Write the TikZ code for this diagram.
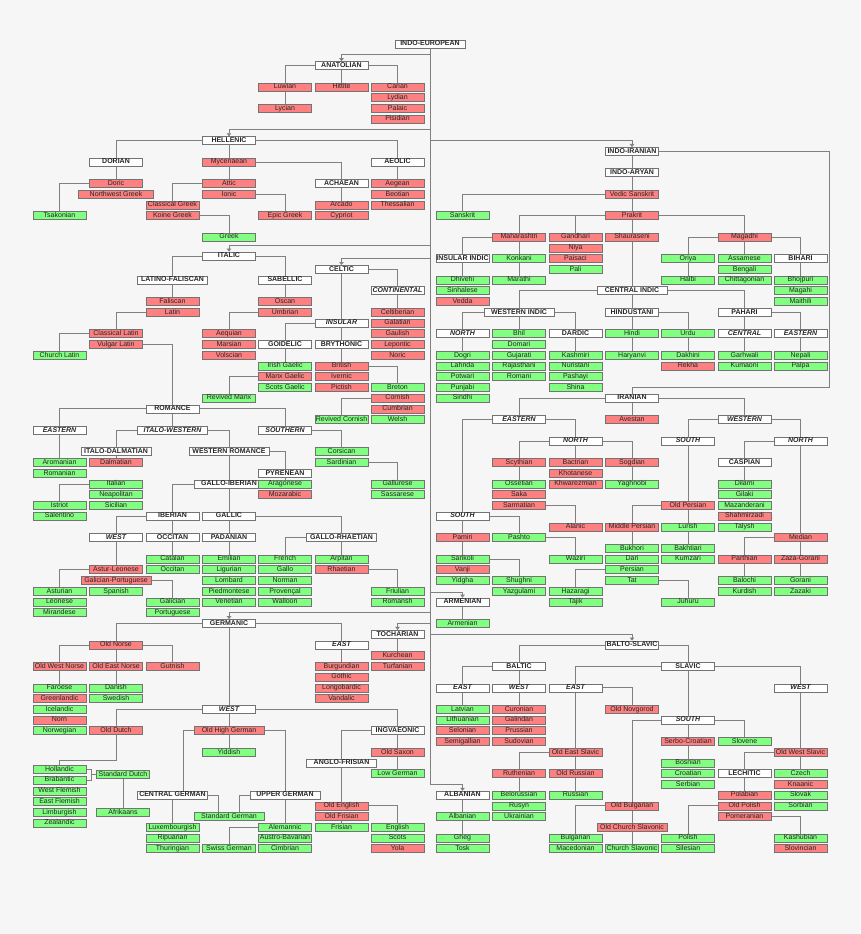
\documentclass[tikz,border=0pt]{standalone}
\usepackage{fontspec}
\setmainfont{Liberation Sans}
\usepackage{tikz}
\usetikzlibrary{arrows.meta,backgrounds,positioning}
\definecolor{bgcol}{RGB}{246,246,246}
\definecolor{extcol}{RGB}{255,128,128}
\definecolor{livcol}{RGB}{128,255,128}
\tikzset{
  lang/.style={draw=black!55, line width=.6pt, minimum width=53pt, minimum height=8pt, inner sep=0pt,
    font=\fontsize{7}{8}\selectfont, text height=5pt, text depth=1.3pt, text=black!85},
  grp/.style={lang, fill=white, font=\fontsize{7}{8}\selectfont\bfseries},
  grpi/.style={lang, fill=white, font=\fontsize{7}{8}\selectfont\bfseries\itshape},
  ext/.style={lang, fill=extcol},
  liv/.style={lang, fill=livcol},
  wide/.style={minimum width=70pt},
  link/.style={draw=black!50, line width=.7pt},
  arr/.style={link, -{Triangle[length=3pt,width=4.5pt]}}
}
\begin{document}
\begin{tikzpicture}[x=1pt, y=-10.73pt]
\useasboundingbox (0,-4.1) rectangle (860,82.945);
% root and trunk
\node[grp, wide] (indo_european) at (430,0) {INDO-EUROPEAN};
\coordinate (t_ana) at (430,0.93);
\coordinate (t_hel) at (430,8);
\coordinate (t_iir) at (430,9);
\coordinate (t_ita) at (430,18.75);
\coordinate (t_cel) at (430,20);
\coordinate (t_arm) at (430,51.15);
\coordinate (t_ger) at (430,53);
\coordinate (t_toc) at (430,54);
\coordinate (t_bal) at (430,55);
\coordinate (t_alb) at (430,69);

% anatolian
\node[grp] (anatolian) at (341.5,2) {ANATOLIAN};
\node[ext] (luwian) at (285,4) {Luwian};
\node[ext] (hittite) at (341.5,4) {Hittite};
\node[ext] (carian) at (397.5,4) {Carian};
\node[ext] (lydian) at (397.5,5) {Lydian};
\node[ext] (lycian) at (285,6) {Lycian};
\node[ext] (palaic) at (397.5,6) {Palaic};
\node[ext] (pisidian) at (397.5,7) {Pisidian};

% hellenic
\node[grp] (hellenic) at (229,9) {HELLENIC};
\node[grp] (dorian) at (116,11) {DORIAN};
\node[ext] (mycenaean) at (229,11) {Mycenaean};
\node[grp] (aeolic) at (397.5,11) {AEOLIC};
\node[ext] (doric) at (116,13) {Doric};
\node[ext] (attic) at (229,13) {Attic};
\node[grp] (achaean) at (341.5,13) {ACHAEAN};
\node[ext] (aegean) at (397.5,13) {Aegean};
\node[ext, minimum width=75pt] (nw_greek) at (116,14) {Northwest Greek};
\node[ext] (ionic) at (229,14) {Ionic};
\node[ext] (beotian) at (397.5,14) {Beotian};
\node[ext] (cl_greek) at (172.5,15) {Classical Greek};
\node[ext] (arcado) at (341.5,15) {Arcado};
\node[ext] (thessalian) at (397.5,15) {Thessalian};
\node[liv] (tsakonian) at (59.5,16) {Tsakonian};
\node[ext] (koine) at (172.5,16) {Koine Greek};
\node[ext] (epic) at (285,16) {Epic Greek};
\node[ext] (cypriot) at (341.5,16) {Cypriot};
\node[liv] (greek) at (229,18) {Greek};

% indo-aryan
\node[grp] (indo_iranian) at (632,10) {INDO-IRANIAN};
\coordinate (ir_bend) at (829,32);
\node[grp] (indo_aryan) at (632,12) {INDO-ARYAN};
\node[ext] (vedic) at (632,14) {Vedic Sanskrit};
\node[liv] (sanskrit) at (462.5,16) {Sanskrit};
\node[ext] (prakrit) at (632,16) {Prakrit};
\node[ext] (maharashtri) at (519,18) {Maharashtri};
\node[ext] (gandhari) at (575.5,18) {Gandhari};
\node[ext] (shauraseni) at (632,18) {Shauraseni};
\node[ext] (magadhi) at (744.5,18) {Magadhi};
\node[ext] (niya) at (575.5,19) {Niya};
\node[grp] (insular_indic) at (462.5,20) {INSULAR INDIC};
\node[liv] (konkani) at (519,20) {Konkani};
\node[ext] (paisaci) at (575.5,20) {Paisaci};
\node[liv] (oriya) at (688,20) {Oriya};
\node[liv] (assamese) at (744.5,20) {Assamese};
\node[grp] (bihari) at (800.5,20) {BIHARI};
\node[liv] (pali) at (575.5,21) {Pali};
\node[liv] (bengali) at (744.5,21) {Bengali};
\node[liv] (dhivehi) at (462.5,22) {Dhivehi};
\node[liv] (marathi) at (519,22) {Marathi};
\node[liv] (halbi) at (688,22) {Halbi};
\node[liv] (chittagonian) at (744.5,22) {Chittagonian};
\node[liv] (bhojpuri) at (800.5,22) {Bhojpuri};
\node[liv] (sinhalese) at (462.5,23) {Sinhalese};
\node[grp, wide] (central_indic) at (632,23) {CENTRAL INDIC};
\node[liv] (magahi) at (800.5,23) {Magahi};
\node[ext] (vedda) at (462.5,24) {Vedda};
\node[liv] (maithili) at (800.5,24) {Maithili};
\node[grp, wide] (western_indic) at (519,25) {WESTERN INDIC};
\node[grp] (hindustani) at (632,25) {HINDUSTANI};
\node[grp] (pahari) at (744.5,25) {PAHARI};
\node[grpi] (north_i) at (462.5,27) {NORTH};
\node[liv] (bhil) at (519,27) {Bhil};
\node[grp] (dardic) at (575.5,27) {DARDIC};
\node[liv] (hindi) at (632,27) {Hindi};
\node[liv] (urdu) at (688,27) {Urdu};
\node[grpi] (central_p) at (744.5,27) {CENTRAL};
\node[grpi] (eastern_p) at (800.5,27) {EASTERN};
\node[liv] (domari) at (519,28) {Domari};
\node[liv] (dogri) at (462.5,29) {Dogri};
\node[liv] (gujarati) at (519,29) {Gujarati};
\node[liv] (kashmiri) at (575.5,29) {Kashmiri};
\node[liv] (haryanvi) at (632,29) {Haryanvi};
\node[liv] (dakhini) at (688,29) {Dakhini};
\node[liv] (garhwali) at (744.5,29) {Garhwali};
\node[liv] (nepali) at (800.5,29) {Nepali};
\node[liv] (lahnda) at (462.5,30) {Lahnda};
\node[liv] (rajasthani) at (519,30) {Rajasthani};
\node[liv] (nuristani) at (575.5,30) {Nuristani};
\node[ext] (rekha) at (688,30) {Rekha};
\node[liv] (kumaoni) at (744.5,30) {Kumaoni};
\node[liv] (palpa) at (800.5,30) {Palpa};
\node[liv] (potwari) at (462.5,31) {Potwari};
\node[liv] (romani) at (519,31) {Romani};
\node[liv] (pashayi) at (575.5,31) {Pashayi};
\node[liv] (punjabi) at (462.5,32) {Punjabi};
\node[liv] (shina) at (575.5,32) {Shina};
\node[liv] (sindhi) at (462.5,33) {Sindhi};

% iranian
\node[grp] (iranian) at (632,33) {IRANIAN};
\node[grpi] (eastern_ir) at (519,35) {EASTERN};
\node[ext] (avestan) at (632,35) {Avestan};
\node[grpi] (western_ir) at (744.5,35) {WESTERN};
\node[grpi] (north_e) at (575.5,37) {NORTH};
\node[grpi] (south_w) at (688,37) {SOUTH};
\node[grpi] (north_w) at (800.5,37) {NORTH};
\node[ext] (scythian) at (519,39) {Scythian};
\node[ext] (bactrian) at (575.5,39) {Bactrian};
\node[ext] (sogdian) at (632,39) {Sogdian};
\node[grp] (caspian) at (744.5,39) {CASPIAN};
\node[ext] (khotanese) at (575.5,40) {Khotanese};
\node[liv] (ossetian) at (519,41) {Ossetian};
\node[ext] (khwarezmian) at (575.5,41) {Khwarezmian};
\node[liv] (yaghnobi) at (632,41) {Yaghnobi};
\node[liv] (dilami) at (744.5,41) {Dilami};
\node[ext] (saka) at (519,42) {Saka};
\node[liv] (gilaki) at (744.5,42) {Gilaki};
\node[ext] (sarmatian) at (519,43) {Sarmatian};
\node[ext] (old_persian) at (688,43) {Old Persian};
\node[liv] (mazanderani) at (744.5,43) {Mazanderani};
\node[grpi] (south_e) at (462.5,44) {SOUTH};
\node[ext] (shahmirzadi) at (744.5,44) {Shahmirzadi};
\node[ext] (alanic) at (575.5,45) {Alanic};
\node[ext] (mid_persian) at (632,45) {Middle Persian};
\node[liv] (lurish) at (688,45) {Lurish};
\node[liv] (talysh) at (744.5,45) {Talysh};
\node[ext] (pamiri) at (462.5,46) {Pamiri};
\node[liv] (pashto) at (519,46) {Pashto};
\node[ext] (median) at (800.5,46) {Median};
\node[liv] (bukhori) at (632,47) {Bukhori};
\node[liv] (bakhtiari) at (688,47) {Bakhtiari};
\node[liv] (sarikoli) at (462.5,48) {Sarikoli};
\node[liv] (waziri) at (575.5,48) {Waziri};
\node[liv] (dari) at (632,48) {Dari};
\node[liv] (kumzari) at (688,48) {Kumzari};
\node[ext] (parthian) at (744.5,48) {Parthian};
\node[ext] (zaza_gorani) at (800.5,48) {Zaza-Gorani};
\node[ext] (vanji) at (462.5,49) {Vanji};
\node[liv] (persian) at (632,49) {Persian};
\node[liv] (yidgha) at (462.5,50) {Yidgha};
\node[liv] (shughni) at (519,50) {Shughni};
\node[liv] (tat) at (632,50) {Tat};
\node[liv] (balochi) at (744.5,50) {Balochi};
\node[liv] (gorani) at (800.5,50) {Gorani};
\node[liv] (yazgulami) at (519,51) {Yazgulami};
\node[liv] (hazaragi) at (575.5,51) {Hazaragi};
\node[liv] (kurdish) at (744.5,51) {Kurdish};
\node[liv] (zazaki) at (800.5,51) {Zazaki};
\node[liv] (tajik) at (575.5,52) {Tajik};
\node[liv] (juhuru) at (688,52) {Juhuru};

% armenian
\node[grp] (armenian_g) at (462.5,52) {ARMENIAN};
\node[liv] (armenian) at (462.5,54) {Armenian};

% italic
\node[grp] (italic) at (229,19.75) {ITALIC};
\node[grp, wide] (lat_fal) at (172.5,22) {LATINO-FALISCAN};
\node[grp] (sabellic) at (285,22) {SABELLIC};
\node[ext] (faliscan) at (172.5,24) {Faliscan};
\node[ext] (oscan) at (285,24) {Oscan};
\node[ext] (latin) at (172.5,25) {Latin};
\node[ext] (umbrian) at (285,25) {Umbrian};
\node[ext] (cl_latin) at (116,27) {Classical Latin};
\node[ext] (aequian) at (229,27) {Aequian};
\node[ext] (vulgar_latin) at (116,28) {Vulgar Latin};
\node[ext] (marsian) at (229,28) {Marsian};
\node[liv] (church_latin) at (59.5,29) {Church Latin};
\node[ext] (volscian) at (229,29) {Volscian};

% celtic
\node[grp] (celtic) at (341.5,21) {CELTIC};
\node[grpi] (continental) at (397.5,23) {CONTINENTAL};
\node[ext] (celtiberian) at (397.5,25) {Celtiberian};
\node[grpi] (insular_c) at (341.5,26) {INSULAR};
\node[ext] (galatian) at (397.5,26) {Galatian};
\node[ext] (gaulish) at (397.5,27) {Gaulish};
\node[grp] (goidelic) at (285,28) {GOIDELIC};
\node[grp] (brythonic) at (341.5,28) {BRYTHONIC};
\node[ext] (lepontic) at (397.5,28) {Lepontic};
\node[ext] (noric) at (397.5,29) {Noric};
\node[liv] (irish) at (285,30) {Irish Gaelic};
\node[ext] (british) at (341.5,30) {British};
\node[ext] (manx) at (285,31) {Manx Gaelic};
\node[ext] (ivernic) at (341.5,31) {Ivernic};
\node[liv] (scots_gaelic) at (285,32) {Scots Gaelic};
\node[ext] (pictish) at (341.5,32) {Pictish};
\node[liv] (breton) at (397.5,32) {Breton};
\node[liv] (rev_manx) at (229,33) {Revived Manx};
\node[ext] (cornish) at (397.5,33) {Cornish};
\node[ext] (cumbrian) at (397.5,34) {Cumbrian};
\node[liv] (rev_cornish) at (341.5,35) {Revived Cornish};
\node[liv] (welsh) at (397.5,35) {Welsh};

% romance
\node[grp] (romance) at (172.5,34) {ROMANCE};
\node[grpi] (eastern_r) at (59.5,36) {EASTERN};
\node[grpi, wide] (italo_western) at (172.5,36) {ITALO-WESTERN};
\node[grpi] (southern_r) at (285,36) {SOUTHERN};
\node[grp, wide] (italo_dalm) at (116,38) {ITALO-DALMATIAN};
\node[grp, minimum width=80pt] (western_rom) at (229,38) {WESTERN ROMANCE};
\node[liv] (corsican) at (341.5,38) {Corsican};
\node[liv] (aromanian) at (59.5,39) {Aromanian};
\node[ext] (dalmatian) at (116,39) {Dalmatian};
\node[liv] (sardinian) at (341.5,39) {Sardinian};
\node[liv] (romanian) at (59.5,40) {Romanian};
\node[grp] (pyrenean) at (285,40) {PYRENEAN};
\node[liv] (italian) at (116,41) {Italian};
\node[grp, wide] (gallo_iberian) at (229,41) {GALLO-IBERIAN};
\node[liv] (aragonese) at (285,41) {Aragonese};
\node[liv] (gallurese) at (397.5,41) {Gallurese};
\node[liv] (neapolitan) at (116,42) {Neapolitan};
\node[ext] (mozarabic) at (285,42) {Mozarabic};
\node[liv] (sassarese) at (397.5,42) {Sassarese};
\node[liv] (istriot) at (59.5,43) {Istriot};
\node[liv] (sicilian) at (116,43) {Sicilian};
\node[liv] (salentino) at (59.5,44) {Salentino};
\node[grp] (iberian) at (172.5,44) {IBERIAN};
\node[grp] (gallic) at (229,44) {GALLIC};
\node[grpi] (west_ib) at (116,46) {WEST};
\node[grp] (occitan_g) at (172.5,46) {OCCITAN};
\node[grp] (padanian) at (229,46) {PADANIAN};
\node[grp, wide] (gallo_rhaetian) at (341.5,46) {GALLO-RHAETIAN};
\node[liv] (catalan) at (172.5,48) {Catalan};
\node[liv] (emilian) at (229,48) {Emilian};
\node[liv] (french) at (285,48) {French};
\node[liv] (arpitan) at (341.5,48) {Arpitan};
\node[ext] (astur_leonese) at (116,49) {Astur-Leonese};
\node[liv] (occitan) at (172.5,49) {Occitan};
\node[liv] (ligurian) at (229,49) {Ligurian};
\node[liv] (gallo) at (285,49) {Gallo};
\node[ext] (rhaetian) at (341.5,49) {Rhaetian};
\node[ext, wide] (gal_port) at (116,50) {Galician-Portuguese};
\node[liv] (lombard) at (229,50) {Lombard};
\node[liv] (norman) at (285,50) {Norman};
\node[liv] (asturian) at (59.5,51) {Asturian};
\node[liv] (spanish) at (116,51) {Spanish};
\node[liv] (piedmontese) at (229,51) {Piedmontese};
\node[liv] (provencal) at (285,51) {Provençal};
\node[liv] (friulian) at (397.5,51) {Friulian};
\node[liv] (leonese) at (59.5,52) {Leonese};
\node[liv] (galician) at (172.5,52) {Galician};
\node[liv] (venetian) at (229,52) {Venetian};
\node[liv] (walloon) at (285,52) {Walloon};
\node[liv] (romansh) at (397.5,52) {Romansh};
\node[liv] (mirandese) at (59.5,53) {Mirandese};
\node[liv] (portuguese) at (172.5,53) {Portuguese};

% germanic and tocharian
\node[grp] (germanic) at (229,54) {GERMANIC};
\node[grp] (tocharian) at (397.5,55) {TOCHARIAN};
\node[ext] (old_norse) at (116,56) {Old Norse};
\node[grpi] (east_g) at (341.5,56) {EAST};
\node[ext] (kurchean) at (397.5,57) {Kurchean};
\node[ext] (old_west_norse) at (59.5,58) {Old West Norse};
\node[ext] (old_east_norse) at (116,58) {Old East Norse};
\node[ext] (gutnish) at (172.5,58) {Gutnish};
\node[ext] (burgundian) at (341.5,58) {Burgundian};
\node[ext] (turfanian) at (397.5,58) {Turfanian};
\node[ext] (gothic) at (341.5,59) {Gothic};
\node[liv] (faroese) at (59.5,60) {Faroese};
\node[liv] (danish) at (116,60) {Danish};
\node[ext] (longobardic) at (341.5,60) {Longobardic};
\node[ext] (greenlandic) at (59.5,61) {Greenlandic};
\node[liv] (swedish) at (116,61) {Swedish};
\node[ext] (vandalic) at (341.5,61) {Vandalic};
\node[liv] (icelandic) at (59.5,62) {Icelandic};
\node[grpi] (west_g) at (229,62) {WEST};
\node[ext] (norn) at (59.5,63) {Norn};
\node[liv] (norwegian) at (59.5,64) {Norwegian};
\node[ext] (old_dutch) at (116,64) {Old Dutch};
\node[ext, wide] (ohg) at (229,64) {Old High German};
\node[grp] (ingvaeonic) at (397.5,64) {INGVAEONIC};
\node[liv] (yiddish) at (229,66) {Yiddish};
\node[ext] (old_saxon) at (397.5,66) {Old Saxon};
\coordinate (od_bend) at (116,66.73);
\node[grp, wide] (anglo_frisian) at (341.5,67) {ANGLO-FRISIAN};
\node[liv] (hollandic) at (59.5,67.6) {Hollandic};
\node[liv] (low_german) at (397.5,68) {Low German};
\coordinate (dutch_brk) at (91.5,68.1);
\node[liv] (std_dutch) at (123,68.1) {Standard Dutch};
\node[liv] (brabantic) at (59.5,68.6) {Brabantic};
\node[liv] (west_flemish) at (59.5,69.6) {West Flemish};
\node[liv] (east_flemish) at (59.5,70.6) {East Flemish};
\node[liv] (limburgish) at (59.5,71.6) {Limburgish};
\node[liv] (afrikaans) at (123,71.6) {Afrikaans};
\node[liv] (zealandic) at (59.5,72.6) {Zealandic};
\node[grp, wide] (central_german) at (172.5,70) {CENTRAL GERMAN};
\node[grp, wide] (upper_german) at (285,70) {UPPER GERMAN};
\node[ext] (old_english) at (341.5,71) {Old English};
\node[ext] (old_frisian) at (341.5,72) {Old Frisian};
\node[liv, wide] (std_german) at (229,72) {Standard German};
\node[liv] (luxembourgish) at (172.5,73) {Luxembourgish};
\node[liv] (alemannic) at (285,73) {Alemannic};
\node[liv] (frisian) at (341.5,73) {Frisian};
\node[liv] (english) at (397.5,73) {English};
\node[liv] (ripuarian) at (172.5,74) {Ripuarian};
\node[liv] (austro_bavarian) at (285,74) {Austro-Bavarian};
\node[liv] (scots) at (397.5,74) {Scots};
\node[liv] (thuringian) at (172.5,75) {Thuringian};
\node[liv] (swiss_german) at (229,75) {Swiss German};
\node[liv] (cimbrian) at (285,75) {Cimbrian};
\node[ext] (yola) at (397.5,75) {Yola};

% balto-slavic
\node[grp] (balto_slavic) at (632,56) {BALTO-SLAVIC};
\node[grp] (baltic) at (519,58) {BALTIC};
\node[grp] (slavic) at (688,58) {SLAVIC};
\node[grpi] (east_b) at (462.5,60) {EAST};
\node[grpi] (west_b) at (519,60) {WEST};
\node[grpi] (east_s) at (575.5,60) {EAST};
\node[grpi] (west_s) at (800.5,60) {WEST};
\node[liv] (latvian) at (462.5,62) {Latvian};
\node[ext] (curonian) at (519,62) {Curonian};
\node[ext] (old_novgorod) at (632,62) {Old Novgorod};
\node[liv] (lithuanian) at (462.5,63) {Lithuanian};
\node[ext] (galindan) at (519,63) {Galindan};
\node[grpi] (south_s) at (688,63) {SOUTH};
\node[ext] (selonian) at (462.5,64) {Selonian};
\node[ext] (prussian) at (519,64) {Prussian};
\node[ext] (semigallian) at (462.5,65) {Semigallian};
\node[ext] (sudovian) at (519,65) {Sudovian};
\node[ext] (serbo_croatian) at (688,65) {Serbo-Croatian};
\node[liv] (slovene) at (744.5,65) {Slovene};
\node[ext] (old_east_slavic) at (575.5,66) {Old East Slavic};
\node[ext] (old_west_slavic) at (800.5,66) {Old West Slavic};
\node[liv] (bosnian) at (688,67) {Bosnian};
\node[ext] (ruthenian) at (519,68) {Ruthenian};
\node[ext] (old_russian) at (575.5,68) {Old Russian};
\node[liv] (croatian) at (688,68) {Croatian};
\node[grp] (lechitic) at (744.5,68) {LECHITIC};
\node[liv] (czech) at (800.5,68) {Czech};
\node[liv] (serbian) at (688,69) {Serbian};
\node[ext] (knaanic) at (800.5,69) {Knaanic};
\node[liv] (belorussian) at (519,70) {Belorussian};
\node[liv] (russian) at (575.5,70) {Russian};
\node[ext] (polabian) at (744.5,70) {Polabian};
\node[liv] (slovak) at (800.5,70) {Slovak};
\node[liv] (rusyn) at (519,71) {Rusyn};
\node[ext] (old_bulgarian) at (632,71) {Old Bulgarian};
\node[ext] (old_polish) at (744.5,71) {Old Polish};
\node[liv] (sorbian) at (800.5,71) {Sorbian};
\node[liv] (ukrainian) at (519,72) {Ukrainian};
\node[ext] (pomeranian) at (744.5,72) {Pomeranian};
\node[ext, wide] (ocs) at (632,73) {Old Church Slavonic};
\node[liv] (bulgarian) at (575.5,74) {Bulgarian};
\node[liv] (polish) at (688,74) {Polish};
\node[liv] (kashubian) at (800.5,74) {Kashubian};
\node[liv] (macedonian) at (575.5,75) {Macedonian};
\node[liv] (church_slavonic) at (632,75) {Church Slavonic};
\node[liv] (silesian) at (688,75) {Silesian};
\node[ext] (slovincian) at (800.5,75) {Slovincian};

% albanian
\node[grp] (albanian_g) at (462.5,70) {ALBANIAN};
\node[liv] (albanian) at (462.5,72) {Albanian};
\node[liv] (gheg) at (462.5,74) {Gheg};
\node[liv] (tosk) at (462.5,75) {Tosk};

\begin{scope}[on background layer]
\fill[bgcol] (0,-4.1) rectangle (860,82.945);
% trunk
\draw[link] (indo_european) -- (t_alb);
\draw[arr] (t_ana) -| (anatolian);
\draw[arr] (t_hel) -| (hellenic);
\draw[arr] (t_iir) -| (indo_iranian);
\draw[arr] (t_ita) -| (italic);
\draw[arr] (t_cel) -| (celtic);
\draw[arr] (t_arm) -| (armenian_g);
\draw[arr] (t_ger) -| (germanic);
\draw[arr] (t_toc) -| (tocharian);
\draw[arr] (t_bal) -| (balto_slavic);
\draw[arr] (t_alb) -| (albanian_g);
% anatolian, hellenic
\draw[link] (anatolian) -| (luwian) -- (lycian);
\draw[link] (anatolian) -- (hittite);
\draw[link] (anatolian) -| (carian);
\draw[link] (hellenic) -| (dorian) -- (doric) -| (tsakonian);
\draw[link] (hellenic) -- (mycenaean) -- (attic) -| (cl_greek);
\draw[link] (hellenic) -| (aeolic) -- (aegean);
\draw[link] (mycenaean) -| (achaean) -- (arcado);
\draw[link] (ionic) -| (epic);
\draw[link] (koine) -| (greek);
% indo-aryan
\draw[link] (indo_iranian) -- (indo_aryan) -- (vedic) -- (prakrit) -- (shauraseni) -- (central_indic) -- (hindustani) -- (hindi) -- (haryanvi);
\draw[link] (vedic) -| (sanskrit);
\draw[link] (prakrit) -| (maharashtri) -- (marathi);
\draw[link] (prakrit) -| (gandhari);
\draw[link] (prakrit) -| (magadhi) -- (assamese);
\draw[link] (maharashtri) -| (insular_indic) -- (dhivehi);
\draw[link] (magadhi) -| (oriya) -- (halbi);
\draw[link] (magadhi) -| (bihari) -- (bhojpuri);
\draw[link] (central_indic) -| (western_indic) -- (bhil);
\draw[link] (central_indic) -| (pahari) -- (central_p) -- (garhwali);
\draw[link] (western_indic) -| (north_i) -- (dogri);
\draw[link] (western_indic) -| (dardic) -- (kashmiri);
\draw[link] (hindustani) -| (urdu) -- (dakhini);
\draw[link] (pahari) -| (eastern_p) -- (nepali);
% iranian
\draw[link] (indo_iranian) -| (ir_bend) -| (iranian);
\draw[link] (iranian) -| (eastern_ir) -| (north_e) -- (bactrian);
\draw[link] (iranian) -- (avestan);
\draw[link] (iranian) -| (western_ir) -| (south_w) -- (old_persian) -- (lurish) -- (bakhtiari);
\draw[link] (western_ir) -| (north_w) -- (median) -- (zaza_gorani) -- (gorani);
\draw[link] (eastern_ir) -| (south_e) -- (pamiri) -- (sarikoli);
\draw[link] (north_e) -| (scythian) -- (ossetian);
\draw[link] (north_e) -| (sogdian) -- (yaghnobi);
\draw[link] (sarmatian) -| (alanic);
\draw[link] (south_e) -| (pashto) -| (waziri);
\draw[link] (sarikoli) -| (shughni);
\draw[link] (old_persian) -| (mid_persian) -- (bukhori);
\draw[link] (persian) -| (hazaragi);
\draw[link] (tat) -| (juhuru);
\draw[link] (north_w) -| (caspian) -- (dilami);
\draw[link] (median) -| (parthian) -- (balochi);
\draw[link] (armenian_g) -- (armenian);
% italic, celtic
\draw[link] (italic) -| (lat_fal) -- (faliscan);
\draw[link] (italic) -| (sabellic) -- (oscan);
\draw[link] (latin) -| (cl_latin) -| (church_latin);
\draw[link] (umbrian) -| (aequian);
\draw[link] (celtic) -| (continental) -- (celtiberian);
\draw[link] (celtic) -- (insular_c) -- (brythonic) -- (british);
\draw[link] (insular_c) -| (goidelic) -- (irish);
\draw[link] (manx) -| (rev_manx);
\draw[link] (british) -| (breton);
\draw[link] (cornish) -| (rev_cornish);
% romance
\draw[link] (vulgar_latin) -| (romance) -- (italo_western);
\draw[link] (romance) -| (eastern_r) -- (aromanian);
\draw[link] (romance) -| (southern_r) -| (corsican);
\draw[link] (italo_western) -| (italo_dalm) -- (dalmatian);
\draw[link] (italo_western) -| (western_rom) -- (gallo_iberian) -- (gallic) -- (padanian) -- (emilian);
\draw[link] (italian) -| (istriot);
\draw[link] (sardinian) -| (gallurese);
\draw[link] (western_rom) -| (pyrenean) -- (aragonese);
\draw[link] (gallo_iberian) -| (iberian) -- (occitan_g) -- (catalan);
\draw[link] (iberian) -| (west_ib) -- (astur_leonese) -| (asturian);
\draw[link] (gal_port) -| (galician);
\draw[link] (gallic) -| (gallo_rhaetian) -- (arpitan);
\draw[link] (gallo_rhaetian) -| (french);
\draw[link] (rhaetian) -| (friulian);
% germanic, tocharian
\draw[link] (tocharian) -- (kurchean);
\draw[link] (germanic) -| (old_norse) -- (old_east_norse) -- (danish);
\draw[link] (germanic) -| (east_g) -- (burgundian);
\draw[link] (germanic) -- (west_g) -- (ohg) -- (yiddish);
\draw[link] (old_norse) -| (old_west_norse) -- (faroese);
\draw[link] (old_norse) -| (gutnish);
\draw[link] (west_g) -| (old_dutch) -- (od_bend) -| (hollandic);
\draw[link] (hollandic.east) -| (dutch_brk) |- (brabantic.east);
\draw[link] (dutch_brk) -- (std_dutch) -- (afrikaans);
\draw[link] (west_g) -| (ingvaeonic) -- (old_saxon) -- (low_german);
\draw[link] (ohg.west) -| ([xshift=10.4pt]central_german.north);
\draw[link] (ohg) -| (upper_german) -- (alemannic) -| (swiss_german);
\draw[link] (central_german.east) -| ([xshift=-10.7pt]std_german.north);
\draw[link] (upper_german.west) -| ([xshift=10pt]std_german.north);
\draw[link] (central_german) -- (luxembourgish);
\draw[link] (ingvaeonic) -| (anglo_frisian) -- (old_english) -| (english);
\draw[link] (old_frisian) -- (frisian);
% balto-slavic
\draw[link] (balto_slavic) -| (baltic) -- (west_b) -- (curonian);
\draw[link] (baltic) -| (east_b) -- (latvian);
\draw[link] (balto_slavic) -| (slavic) -- (south_s) -- (serbo_croatian) -- (bosnian);
\draw[link] (slavic) -| (east_s) -- (old_east_slavic) -- (old_russian) -- (russian);
\draw[link] (east_s) -| (old_novgorod);
\draw[link] (slavic) -| (west_s) -- (old_west_slavic) -- (czech);
\draw[link] (south_s) -| (slovene);
\draw[link] (south_s) -| (old_bulgarian) -- (ocs) -- (church_slavonic);
\draw[link] (old_bulgarian) -| (bulgarian);
\draw[link] (old_east_slavic) -| (ruthenian) -- (belorussian);
\draw[link] (old_west_slavic) -| (lechitic) -- (polabian);
\draw[link] (old_polish) -| (polish);
\draw[link] (pomeranian) -| (kashubian);
\draw[link] (albanian_g) -- (albanian) -- (gheg);
\end{scope}
\end{tikzpicture}
\end{document}
